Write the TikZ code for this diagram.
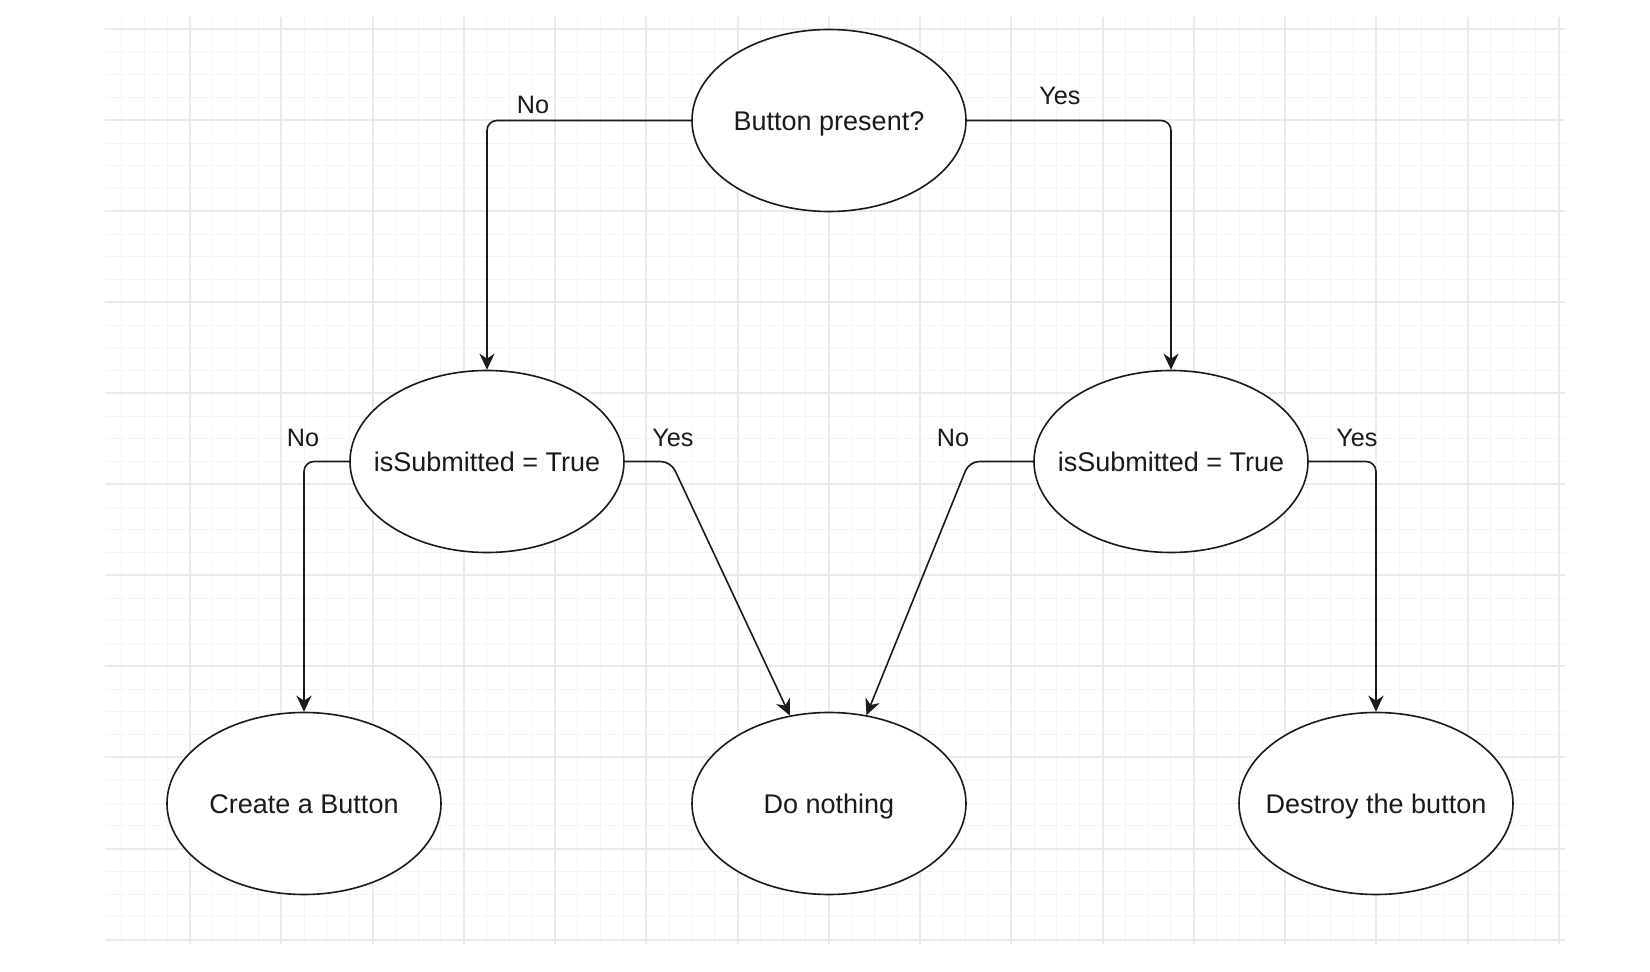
\documentclass[tikz,border=0pt]{standalone}
\usepackage{fontspec}
\setmainfont{Liberation Sans}
\usetikzlibrary{shapes.geometric,arrows.meta}

\definecolor{gridminorc}{HTML}{F5F5F5}
\definecolor{gridmajorc}{HTML}{EAEAEA}
\definecolor{inkc}{HTML}{1A1A1A}

\tikzset{
  gridminor/.style={draw=gridminorc,line width=0.5pt},
  gridmajor/.style={draw=gridmajorc,line width=1pt},
  decision/.style={ellipse,draw=inkc,fill=white,line width=0.8pt,
    minimum width=137pt,minimum height=91pt,inner sep=0pt,
    font=\fontsize{13.5pt}{16pt}\selectfont,text=inkc,
    text height=1.1em,text depth=0.1em},
  conn/.style={draw=inkc,line width=0.8pt,rounded corners=5pt,
    -{Stealth[length=8pt,width=7.5pt,inset=2.5pt]}},
  edgelabel/.style={font=\fontsize{12.6pt}{15pt}\selectfont,text=inkc,inner sep=0pt}
}

\begin{document}
\begin{tikzpicture}[x=0.5pt,y=-0.5pt]
  \useasboundingbox[fill=white] (0,0) rectangle (1650,972);

  % background grid
  \begin{scope}
    \clip (105,17) rectangle (1565,944);
    \foreach \i in {-4,...,60}
      \draw[gridminor] ({190+22.8125*\i},17) -- ({190+22.8125*\i},944);
    \foreach \j in {-1,...,40}
      \draw[gridminor] (105,{29.5+22.75*\j}) -- (1565,{29.5+22.75*\j});
    \foreach \i in {-4,0,...,60}
      \draw[gridmajor] ({190+22.8125*\i},17) -- ({190+22.8125*\i},944);
    \foreach \j in {0,4,...,40}
      \draw[gridmajor] (105,{29.5+22.75*\j}) -- (1565,{29.5+22.75*\j});
  \end{scope}

  % decision and action ellipses
  \node[decision] (bp) at (829,120.5) {\makebox[0pt]{Button present?}};
  \node[decision] (ls) at (487,461.5) {\makebox[0pt]{isSubmitted = True}};
  \node[decision] (rs) at (1171,461.5) {\makebox[0pt]{isSubmitted = True}};
  \node[decision] (cb) at (304,803.5) {\makebox[0pt]{Create a Button}};
  \node[decision] (dn) at (829,803.5) {\makebox[0pt]{Do nothing}};
  \node[decision] (db) at (1376,803.5) {\makebox[0pt]{Destroy the button}};

  % connectors
  \draw[conn] (bp.west) -| (ls.north);
  \draw[conn] (bp.east) -| (rs.north);
  \draw[conn] (ls.west) -| (cb.north);
  \draw[conn] (ls.east) -- ++(46,0) -- (dn.114);
  \draw[conn] (rs.west) -- ++(-64,0) -- (dn.67);
  \draw[conn] (rs.east) -| (db.north);

  % branch labels
  \node[edgelabel] (l1) at (533,105) {No};
  \node[edgelabel] (l2) at (1060,96) {Yes};
  \node[edgelabel] (l3) at (303,438) {No};
  \node[edgelabel] (l4) at (673,438) {Yes};
  \node[edgelabel] (l5) at (953,438) {No};
  \node[edgelabel] (l6) at (1357,438) {Yes};
\end{tikzpicture}
\end{document}
